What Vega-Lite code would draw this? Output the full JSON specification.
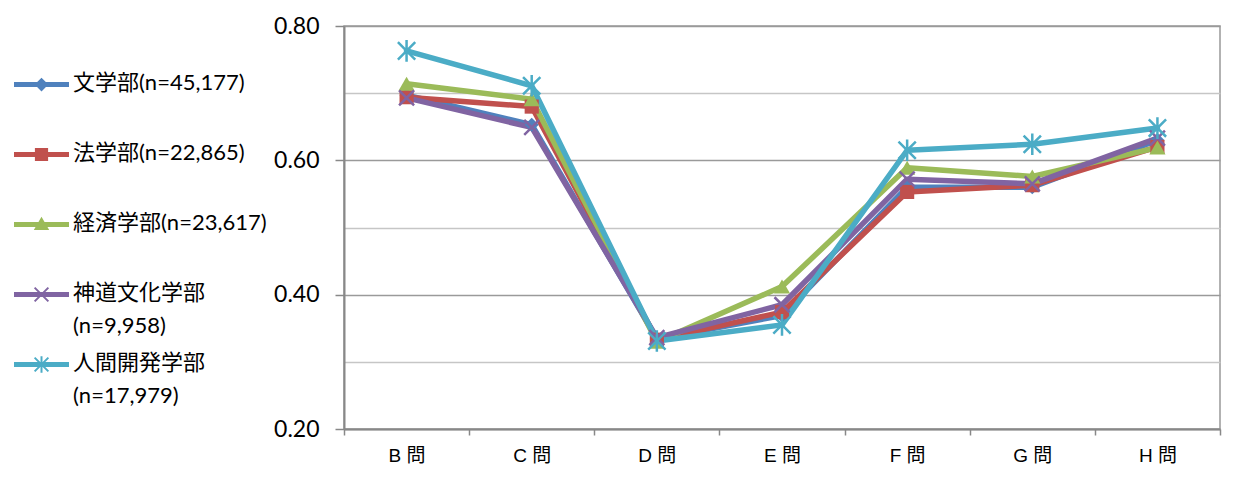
{
  "$schema": "https://vega.github.io/schema/vega-lite/v6.json",
  "width": 876,
  "height": 403,
  "autosize": {"type": "none"},
  "padding": {"left": 344, "top": 26, "right": 18, "bottom": 62},
  "background": "white",
  "config": {
    "view": {"stroke": "#999999", "strokeWidth": 1.5},
    "axis": {"domainColor": "#888888", "domainWidth": 2, "tickColor": "#888888", "tickWidth": 1.5}
  },
  "data": {
    "values": [
      {"s": "文学部(n=45,177)", "q": "B 問", "v": 0.697},
      {"s": "文学部(n=45,177)", "q": "C 問", "v": 0.653},
      {"s": "文学部(n=45,177)", "q": "D 問", "v": 0.334},
      {"s": "文学部(n=45,177)", "q": "E 問", "v": 0.369},
      {"s": "文学部(n=45,177)", "q": "F 問", "v": 0.560},
      {"s": "文学部(n=45,177)", "q": "G 問", "v": 0.560},
      {"s": "文学部(n=45,177)", "q": "H 問", "v": 0.630},
      {"s": "法学部(n=22,865)", "q": "B 問", "v": 0.694},
      {"s": "法学部(n=22,865)", "q": "C 問", "v": 0.680},
      {"s": "法学部(n=22,865)", "q": "D 問", "v": 0.333},
      {"s": "法学部(n=22,865)", "q": "E 問", "v": 0.374},
      {"s": "法学部(n=22,865)", "q": "F 問", "v": 0.553},
      {"s": "法学部(n=22,865)", "q": "G 問", "v": 0.563},
      {"s": "法学部(n=22,865)", "q": "H 問", "v": 0.620},
      {"s": "経済学部(n=23,617)", "q": "B 問", "v": 0.714},
      {"s": "経済学部(n=23,617)", "q": "C 問", "v": 0.691},
      {"s": "経済学部(n=23,617)", "q": "D 問", "v": 0.330},
      {"s": "経済学部(n=23,617)", "q": "E 問", "v": 0.412},
      {"s": "経済学部(n=23,617)", "q": "F 問", "v": 0.589},
      {"s": "経済学部(n=23,617)", "q": "G 問", "v": 0.576},
      {"s": "経済学部(n=23,617)", "q": "H 問", "v": 0.619},
      {"s": "神道文化学部(n=9,958)", "q": "B 問", "v": 0.693},
      {"s": "神道文化学部(n=9,958)", "q": "C 問", "v": 0.649},
      {"s": "神道文化学部(n=9,958)", "q": "D 問", "v": 0.336},
      {"s": "神道文化学部(n=9,958)", "q": "E 問", "v": 0.385},
      {"s": "神道文化学部(n=9,958)", "q": "F 問", "v": 0.572},
      {"s": "神道文化学部(n=9,958)", "q": "G 問", "v": 0.565},
      {"s": "神道文化学部(n=9,958)", "q": "H 問", "v": 0.633},
      {"s": "人間開発学部(n=17,979)", "q": "B 問", "v": 0.763},
      {"s": "人間開発学部(n=17,979)", "q": "C 問", "v": 0.711},
      {"s": "人間開発学部(n=17,979)", "q": "D 問", "v": 0.331},
      {"s": "人間開発学部(n=17,979)", "q": "E 問", "v": 0.355},
      {"s": "人間開発学部(n=17,979)", "q": "F 問", "v": 0.615},
      {"s": "人間開発学部(n=17,979)", "q": "G 問", "v": 0.624},
      {"s": "人間開発学部(n=17,979)", "q": "H 問", "v": 0.648}
    ]
  },
  "encoding": {
    "x": {
      "field": "q", "type": "nominal", "bandPosition": 0.5, "title": null,
      "scale": {"type": "band", "paddingInner": 0, "paddingOuter": 0},
      "axis": {"labelAngle": 0, "tickBand": "extent", "tickSize": 6, "labelPadding": 11, "labelFont": "Liberation Sans, Noto Sans CJK JP", "labelFontSize": 19, "labelColor": "black", "grid": false}
    },
    "y": {
      "field": "v", "type": "quantitative", "title": null,
      "scale": {"domain": [0.2, 0.8], "nice": false, "zero": false},
      "axis": {
        "values": [0.2, 0.3, 0.4, 0.5, 0.6, 0.7, 0.8],
        "format": ".2f",
        "labelExpr": "round(datum.value*10)%2==0 ? datum.label : ''",
        "labelFont": "Lato", "labelFontSize": 23, "labelColor": "black", "labelPadding": 16,
        "tickSize": 9,
        "tickOpacity": {"condition": {"test": "round(datum.value*10)%2==0", "value": 1}, "value": 0},
        "grid": true, "gridWidth": 1.5,
        "gridColor": {"condition": {"test": "round(datum.value*10)%2==0", "value": "#9a9a9a"}, "value": "#c6c6c6"}
      }
    },
    "color": {
      "field": "s", "type": "nominal", "legend": null,
      "scale": {
        "domain": ["文学部(n=45,177)", "法学部(n=22,865)", "経済学部(n=23,617)", "神道文化学部(n=9,958)", "人間開発学部(n=17,979)"],
        "range": ["#4F81BD", "#C0504D", "#9BBB59", "#8064A2", "#4BACC6"]
      }
    }
  },
  "layer": [
    {
      "transform": [{"filter": "false"}],
      "mark": {"type": "point", "filled": true, "opacity": 1},
      "encoding": {
        "color": {
          "field": "s", "type": "nominal",
          "scale": {
            "domain": ["文学部(n=45,177)", "法学部(n=22,865)", "経済学部(n=23,617)", "神道文化学部(n=9,958)", "人間開発学部(n=17,979)"],
            "range": ["#4F81BD", "#C0504D", "#9BBB59", "#8064A2", "#4BACC6"]
          },
          "legend": {
            "orient": "none", "legendX": -330, "legendY": 31, "title": null, "padding": 0,
            "symbolSize": 3025, "symbolStrokeWidth": 0, "symbolOpacity": 1,
            "labelFont": "Lato, Noto Sans CJK JP", "labelFontSize": 22, "labelColor": "black", "labelLimit": 400,
            "labelOffset": 4, "rowPadding": 0, "labelBaseline": "top",
            "labelExpr": "(indexof(datum.label,'神道')==0 || indexof(datum.label,'人間')==0) ? [slice(datum.label,0,indexof(datum.label,'(')), slice(datum.label,indexof(datum.label,'('))] : [datum.label, ' ']",
            "encode": {"labels": {"update": {"dy": {"value": -12}, "lineHeight": {"value": 33}}}}
          }
        },
        "shape": {
          "field": "s", "type": "nominal",
          "scale": {
            "domain": ["文学部(n=45,177)", "法学部(n=22,865)", "経済学部(n=23,617)", "神道文化学部(n=9,958)", "人間開発学部(n=17,979)"],
            "range": [
              "M-1,-0.09L1,-0.09L1,0.09L-1,0.09ZM0,-0.25L0.25,0L0,0.25L-0.25,0Z",
              "M-1,-0.09L1,-0.09L1,0.09L-1,0.09ZM-0.24,-0.24L0.24,-0.24L0.24,0.24L-0.24,0.24Z",
              "M-1,-0.09L1,-0.09L1,0.09L-1,0.09ZM0,-0.28L0.28,0.2L-0.28,0.2Z",
              "M-1,-0.09L1,-0.09L1,0.09L-1,0.09ZM-0.225,-0.275L0.275,0.225L0.225,0.275L-0.275,-0.225ZM0.275,-0.225L-0.225,0.275L-0.275,0.225L0.225,-0.275Z",
              "M-1,-0.09L1,-0.09L1,0.09L-1,0.09ZM-0.225,-0.275L0.275,0.225L0.225,0.275L-0.275,-0.225ZM0.275,-0.225L-0.225,0.275L-0.275,0.225L0.225,-0.275ZM-0.036,-0.3L0.036,-0.3L0.036,0.3L-0.036,0.3Z"
            ]
          },
          "legend": {
            "orient": "none", "legendX": -330, "legendY": 31, "title": null, "padding": 0,
            "symbolSize": 3025, "symbolStrokeWidth": 0, "symbolOpacity": 1,
            "labelFont": "Lato, Noto Sans CJK JP", "labelFontSize": 22, "labelColor": "black", "labelLimit": 400,
            "labelOffset": 4, "rowPadding": 0, "labelBaseline": "top",
            "labelExpr": "(indexof(datum.label,'神道')==0 || indexof(datum.label,'人間')==0) ? [slice(datum.label,0,indexof(datum.label,'(')), slice(datum.label,indexof(datum.label,'('))] : [datum.label, ' ']",
            "encode": {"labels": {"update": {"dy": {"value": -12}, "lineHeight": {"value": 33}}}}
          }
        }
      }
    },
    {"mark": {"type": "line", "strokeWidth": 5.5, "strokeJoin": "round", "strokeCap": "round"}},
    {"transform": [{"filter": "datum.s == '文学部(n=45,177)'"}], "mark": {"type": "point", "shape": "diamond", "size": 200, "filled": true, "opacity": 1}},
    {"transform": [{"filter": "datum.s == '法学部(n=22,865)'"}], "mark": {"type": "point", "shape": "square", "size": 200, "filled": true, "opacity": 1}},
    {"transform": [{"filter": "datum.s == '経済学部(n=23,617)'"}], "mark": {"type": "point", "shape": "triangle-up", "size": 260, "filled": true, "opacity": 1}},
    {"transform": [{"filter": "datum.s == '神道文化学部(n=9,958)'"}], "mark": {"type": "point", "shape": "M-1,-1L1,1M1,-1L-1,1", "size": 225, "filled": false, "strokeWidth": 2.5, "opacity": 1}},
    {"transform": [{"filter": "datum.s == '人間開発学部(n=17,979)'"}], "mark": {"type": "point", "shape": "M-1,-1L1,1M1,-1L-1,1M0,-1.25L0,1.25", "size": 300, "filled": false, "strokeWidth": 2.5, "opacity": 1}}
  ]
}
